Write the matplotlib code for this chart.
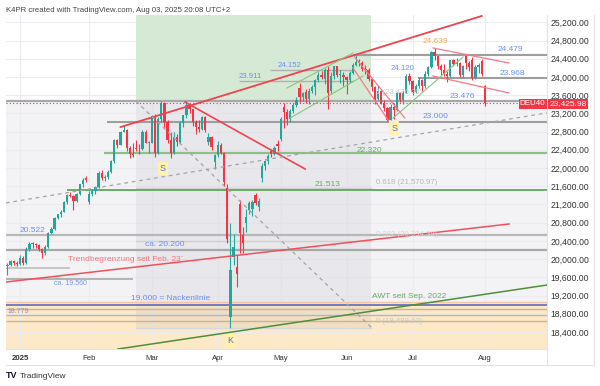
import numpy as np
import pandas as pd
import matplotlib
matplotlib.use("Agg")
import matplotlib.pyplot as plt
from matplotlib.patches import Rectangle
from matplotlib.lines import Line2D

plt.rcParams['font.family'] = ['Liberation Sans', 'DejaVu Sans']

# DEU40 daily bars (CFD)
days = pd.bdate_range("2024-12-20", "2025-08-01")
days = days.drop(pd.to_datetime(["2024-12-24", "2024-12-25", "2024-12-26", "2024-12-31",
                                 "2025-01-01", "2025-04-18", "2025-04-21", "2025-05-01"]))

dec = [(19850, 19910, 19660, 19880), (19880, 19990, 19850, 19960),
       (19960, 19990, 19870, 19910), (19910, 19960, 19850, 19900)]
jan = [(19900, 20100, 19880, 20020), (20020, 20060, 19880, 19910), (19910, 20260, 19900, 20220),
       (20220, 20370, 20180, 20340), (20340, 20380, 20250, 20330), (20330, 20350, 20250, 20310),
       (20310, 20330, 20180, 20215), (20215, 20240, 20020, 20130), (20130, 20300, 20100, 20270),
       (20270, 20600, 20250, 20575), (20575, 20700, 20550, 20655), (20655, 20920, 20640, 20900),
       (20900, 21000, 20880, 20990), (20990, 21080, 20930, 21040), (21040, 21270, 21030, 21255),
       (21255, 21420, 21200, 21410), (21410, 21480, 21370, 21395), (21395, 21400, 21080, 21280),
       (21280, 21450, 21250, 21430), (21430, 21650, 21400, 21640), (21640, 21780, 21580, 21730),
       (21780, 21820, 21700, 21730)]
feb = [(21250, 21500, 21200, 21430), (21430, 21540, 21380, 21505), (21505, 21600, 21430, 21585),
       (21585, 21930, 21570, 21900), (21900, 21960, 21740, 21790), (21790, 21850, 21720, 21800),
       (21800, 21950, 21760, 21920), (21920, 22170, 21880, 22150), (22150, 22630, 22120, 22610),
       (22610, 22640, 22450, 22515), (22515, 22820, 22500, 22800), (22800, 22935, 22780, 22845),
       (22845, 22850, 22370, 22435), (22435, 22480, 22230, 22310), (22310, 22560, 22250, 22290),
       (22450, 22610, 22380, 22425), (22425, 22520, 22300, 22410), (22410, 22840, 22400, 22795),
       (22795, 22830, 22540, 22550), (22550, 22600, 22320, 22560)]
mar = [(22560, 23170, 22540, 23150), (23150, 23180, 22250, 22330), (22330, 23120, 22300, 23080),
       (23080, 23475, 23000, 23420), (23420, 23440, 22900, 23010), (23010, 23060, 22550, 22620),
       (22620, 22800, 22230, 22330), (22330, 22780, 22300, 22680), (22680, 22750, 22480, 22570),
       (22570, 23030, 22550, 22990), (22990, 23170, 22900, 23155), (23155, 23476, 23100, 23380),
       (23380, 23400, 23200, 23290), (23290, 23300, 22930, 23000), (23000, 23050, 22750, 22890),
       (22890, 23050, 22800, 22850), (22850, 23150, 22830, 23110), (23110, 23140, 22800, 22840),
       (22570, 22760, 22500, 22680), (22680, 22700, 22400, 22460), (22130, 22300, 21980, 22290)]
apr = [(22290, 22600, 22250, 22510), (22510, 22560, 22300, 22330), (22330, 22360, 21600, 21700),
       (21560, 21650, 20350, 20450), (18730, 20790, 18490, 19760), (20050, 20560, 19870, 20270),
       (19830, 20100, 19390, 19670), (21200, 21300, 20130, 20570), (20530, 20700, 20130, 20360),
       (20790, 21100, 20600, 20930), (21080, 21280, 21000, 21230), (21090, 21300, 20950, 21250),
       (21400, 21450, 21180, 21230), (21150, 21350, 21050, 21280), (21780, 22100, 21700, 22040),
       (22040, 22180, 21950, 22150), (22150, 22300, 22080, 22260), (22380, 22420, 22250, 22300),
       (22300, 22480, 22280, 22440), (22520, 22620, 22380, 22480)]
may = [(22640, 23120, 22600, 23080), (23350, 23420, 22880, 23230), (23230, 23300, 22950, 23080),
       (23080, 23300, 23000, 23250), (23250, 23420, 23200, 23380), (23380, 23560, 23350, 23500),
       (23750, 23870, 23450, 23560), (23560, 23680, 23470, 23640), (23680, 23730, 23430, 23520),
       (23520, 23750, 23400, 23700), (23700, 23820, 23650, 23770), (23770, 23950, 23600, 23930),
       (23930, 24100, 23880, 24040), (24040, 24130, 23950, 24000), (23950, 24200, 23850, 24150),
       (24150, 24250, 23300, 23650), (23700, 24100, 23650, 24030), (24030, 24250, 23950, 24230),
       (24230, 24250, 24000, 24040), (24040, 24150, 23870, 24050), (24050, 24100, 23800, 24000)]
jun = [(23990, 24020, 23620, 23930), (23930, 24140, 23860, 24090), (24090, 24300, 24060, 24270),
       (24270, 24479, 24230, 24320), (24320, 24400, 24240, 24300), (24300, 24340, 24140, 24180),
       (24180, 24260, 24060, 24160), (24160, 24190, 23910, 23950), (23950, 23980, 23700, 23770),
       (23770, 23800, 23400, 23520), (23520, 23800, 23500, 23700), (23700, 23720, 23400, 23430),
       (23430, 23500, 23250, 23320), (23320, 23330, 23030, 23060), (23060, 23400, 23050, 23350),
       (23350, 23420, 23080, 23270), (23270, 23680, 23260, 23640), (23640, 23660, 23450, 23500),
       (23500, 23700, 23400, 23650), (23650, 24070, 23640, 24030), (24030, 24090, 23850, 23910)]
jul = [(23910, 23930, 23600, 23670), (23670, 23850, 23640, 23790), (23790, 24000, 23760, 23930),
       (23930, 23950, 23700, 23790), (23790, 24120, 23760, 24070), (24070, 24250, 24030, 24210),
       (24210, 24580, 24190, 24550), (24550, 24639, 24380, 24450), (24450, 24460, 24180, 24250),
       (24250, 24280, 24040, 24160), (24160, 24290, 24030, 24060), (24060, 24120, 23880, 24010),
       (24010, 24380, 23990, 24370), (24370, 24400, 24250, 24290), (24290, 24420, 24240, 24310),
       (24310, 24330, 24000, 24040), (24040, 24260, 23980, 24240), (24460, 24479, 24180, 24300),
       (24300, 24350, 24120, 24220), (24380, 24440, 23940, 23970), (23970, 24260, 23950, 24220),
       (24220, 24300, 24080, 24260), (24360, 24400, 24030, 24070)]
aug = [(23790, 23820, 23360, 23425.98)]

bars = np.array(dec + jan + feb + mar + apr + may + jun + jul + aug, dtype=float)
o, h, l, c = bars.T
x = np.arange(len(bars)) - len(dec)     # Jan 2 = 0
last = c[-1]

# horizontal levels: (price, x from, x to, colour, width)
XL, XR = -4.46, 167.8
levels = [
    (24479, 106, XR, '#9e9e9e', 1.5), (23968, 126.8, XR, '#9e9e9e', 1.5),
    (24152, 79.6, 106, '#b0b0b0', 1.0), (23911, 69.7, 106, '#b0b0b0', 1.0),
    (23476, XL, XR, '#a8a8a8', 1.6), (23000, 27.7, XR, '#9e9e9e', 1.5),
    (22320, 26.8, XR, '#8cc084', 1.6), (21513, 15, XR, '#5fa85a', 1.3),
    (20522, XL, XR, '#b8b8b8', 1.6), (20200, XL, XR, '#a8a8a8', 1.6),
    (19804, XL, 15.9, '#bdbdbd', 1.2), (19560, XL, 36, '#a8a8a8', 1.2),
    (19060, XL, XR, '#f7c59f', 1.0), (19000, XL, XR, '#5c6bc0', 1.2),
    (18900, XL, XR, '#c9b48f', 1.0), (18779, XL, XR, '#c9b48f', 1.0),
    (18640, XL, XR, '#c9b48f', 1.0),
]
# trend lines: (x0, p0, x1, p1, colour, width, style)
trends = [
    (32, 22900, 147, 25338, '#f0434f', 1.3, '-'),
    (52.5, 23450, 90.8, 21978, '#f0434f', 1.2, '-'),
    (XL, 19497, 155.7, 20771, '#f0505c', 1.1, '-'),
    (106.5, 24440, 122.5, 23100, '#f47a84', 0.9, '-'),
    (106, 24200, 117.5, 23020, '#f47a84', 0.9, '-'),
    (131.5, 24636, 155.7, 24306, '#f47a84', 0.9, '-'),
    (131.5, 24021, 155.7, 23648, '#f47a84', 0.9, '-'),
    (85, 23757, 106, 24526, '#8cc47e', 0.8, '-'),
    (86, 23096, 109.2, 24021, '#8cc47e', 0.8, '-'),
    (118.8, 23096, 141.1, 24438, '#8cc47e', 0.8, '-'),
    (31.2, 18026, XR, 19431, '#4e8f3a', 1.1, '-'),
    (XL, 21234, XR, 23211, '#a5a5a5', 0.9, '--'),
    (36.9, 23470, 112.1, 18485, '#a5a5a5', 0.9, '--'),
]
# text labels: (x, price, text, colour, size, ha)
labels = [
    (156, 24592, '24.479', '#6d8ef2', 6, 'center'), (156.7, 24080, '23.968', '#6d8ef2', 6, 'center'),
    (141, 23566, '23.476', '#6d8ef2', 6, 'center'), (132.2, 23127, '23.000', '#6d8ef2', 6, 'center'),
    (121.7, 24175, '24.120', '#6d8ef2', 5.6, 'center'), (132.2, 24789, '24.639', '#f5a860', 6, 'center'),
    (85.7, 24262, '24.152', '#6d8ef2', 5.6, 'center'), (73.2, 24020, '23.911', '#6d8ef2', 5.6, 'center'),
    (111.1, 22380, '22.320', '#6aaa64', 6, 'center'), (98, 21649, '21.513', '#6aaa64', 6, 'center'),
    (4.1, 20639, '20.522', '#6d8ef2', 6, 'center'), (46.2, 20310, 'ca. 20.200', '#6d8ef2', 6, 'center'),
    (33.8, 19995, 'Trendbegrenzung seit Feb. 23´', '#f07682', 6, 'center'),
    (16, 19469, 'ca. 19.560', '#7f97e6', 5, 'center'),
    (47.8, 19139, '19.000 = Nackenlinie', '#6d8ef2', 6, 'center'),
    (-0.6, 18860, '18.779', '#9a90b4', 5, 'center'),
    (123.9, 19174, 'AWT seit Sep. 2022', '#6aaa64', 6, 'center'),
    (113.4, 23649, '1 (23,476.00)', '#c4c4c4', 5.6, 'left'),
    (113.4, 21692, '0.618 (21,570.97)', '#b8b8b8', 5.6, 'left'),
    (113.4, 20530, '0.382 (20,394.38)', '#d6d6d6', 5.6, 'left'),
    (113.4, 18620, '0 (18,489.60)', '#c8c8c8', 5.6, 'left'),
]
marks = [(45.5, 21994, 'S'), (119.1, 22874, 'S'), (66.9, 18217, 'K')]

fig = plt.figure(figsize=(6, 3.86), dpi=100)
ax = fig.add_axes([6 / 600, 1 - 349 / 386, 541 / 600, 334 / 386])
ax.set_xlim(XL, XR)
ax.set_ylim(18026, 25360)

# zones
ax.add_patch(Rectangle((XL, 19060), XR - XL, 23476 - 19060, fc='#f3f3f6', ec='none', zorder=0))
ax.add_patch(Rectangle((XL, 18026), XR - XL, 19060 - 18026, fc='#fde8c8', ec='none', zorder=0))
ax.add_patch(Rectangle((36.9, 23476), 74.9, 2000, fc='#d6e9d5', ec='none', zorder=0.2))
ax.add_patch(Rectangle((36.9, 18490), 74.9, 23476 - 18490, fc='#9e9eaa', alpha=0.12, ec='none', zorder=0.2))
for p in [21571, 20394]:
    ax.plot([36.9, 111.8], [p, p], color='#d0d0d0', lw=1, zorder=0.3)
ax.plot([36.9, 111.8], [18490, 18490], color='#d8d8d8', lw=1, zorder=0.3)

# grid
months = pd.Series(x, index=days).groupby([days.year, days.month]).first().values[1:]
month_names = ['2025', 'Feb', 'Mar', 'Apr', 'May', 'Jun', 'Jul', 'Aug']
for m in months:
    ax.axvline(m, color='#ececf0', lw=0.8, zorder=0.1)
yt = np.arange(18400, 25201, 400)
for p in yt:
    ax.axhline(p, color='#ececf0', lw=0.8, zorder=0.1)

for p, x0, x1, col, lw in levels:
    ax.plot([x0, x1], [p, p], color=col, lw=lw, zorder=2, solid_capstyle='butt')

# candles
up = c >= o
col = np.where(up, '#26a69a', '#f23645')
ax.vlines(x, l, h, color=col, lw=0.8, zorder=3)
body = np.maximum(np.abs(c - o), 14)
ax.bar(x, body, bottom=np.minimum(o, c), width=0.72, color=col, zorder=3.1)

for x0, p0, x1, p1, colr, lw, ls in trends:
    if ls == '--':
        ax.plot([x0, x1], [p0, p1], color=colr, lw=lw, dashes=(3, 3), zorder=4)
    else:
        ax.plot([x0, x1], [p0, p1], color=colr, lw=lw, ls=ls, zorder=4)

ax.axhline(last, color='#f23645', lw=0.8, ls=(0, (1, 2)), zorder=4)

for tx, ty, s, colr, fs, ha in labels:
    ax.text(tx, ty, s, color=colr, fontsize=fs, ha=ha, va='center', zorder=5)
for mx, my, s in marks:
    ax.text(mx, my, s, color='#5b6fd6', fontsize=6.5, ha='center', va='center', zorder=6,
            bbox=dict(boxstyle='square,pad=0.25', fc='#fdf2b0', ec='none'))

# axes
for s in ['top', 'left']:
    ax.spines[s].set_visible(False)
for s in ['right', 'bottom']:
    ax.spines[s].set_color('#e0e3eb')
ax.yaxis.tick_right()
ax.set_yticks(yt)
ax.set_yticklabels([f'{v:,.2f}' for v in yt])
ax.tick_params(axis='y', length=0, pad=2.5, labelsize=6.2, labelcolor='#333333')
ax.set_xticks(months)
ax.set_xticklabels(month_names)
ax.tick_params(axis='x', length=0, pad=4, labelsize=5.6, labelcolor='#333333')
ax.get_xticklabels()[0].set_fontweight('bold')

ax.text(1.004, last - 20, f'{last:,.2f}', transform=ax.get_yaxis_transform(), color='white',
        fontsize=6, va='center', ha='left', zorder=7,
        bbox=dict(boxstyle='square,pad=0.15', fc='#f23645', ec='none'))
ax.text(0.997, last - 20, 'DEU40', transform=ax.get_yaxis_transform(), color='white',
        fontsize=5.8, va='center', ha='right', zorder=7,
        bbox=dict(boxstyle='square,pad=0.15', fc='#f23645', ec='none'))

fig.add_artist(Line2D([6 / 600, 594 / 600], [1 - 365 / 386] * 2, color='#e0e3eb', lw=0.8))
fig.add_artist(Line2D([594 / 600] * 2, [1 - 365 / 386, 1 - 15 / 386], color='#e0e3eb', lw=0.8))
fig.add_artist(Line2D([547 / 600] * 2, [1 - 365 / 386, 1 - 349 / 386], color='#e0e3eb', lw=0.8))

fig.text(6 / 600, 1 - 10 / 386, 'K4PR created with TradingView.com, Aug 03, 2025 20:08 UTC+2',
         fontsize=5.6, color='#444444', va='center')
fig.text(6 / 600, 1 - 376 / 386, 'TV', fontsize=6.5, fontweight='bold', color='#131722', va='center')
fig.text(20 / 600, 1 - 376 / 386, 'TradingView', fontsize=6, color='#333333', va='center')

fig.savefig('out.png', dpi=100)
